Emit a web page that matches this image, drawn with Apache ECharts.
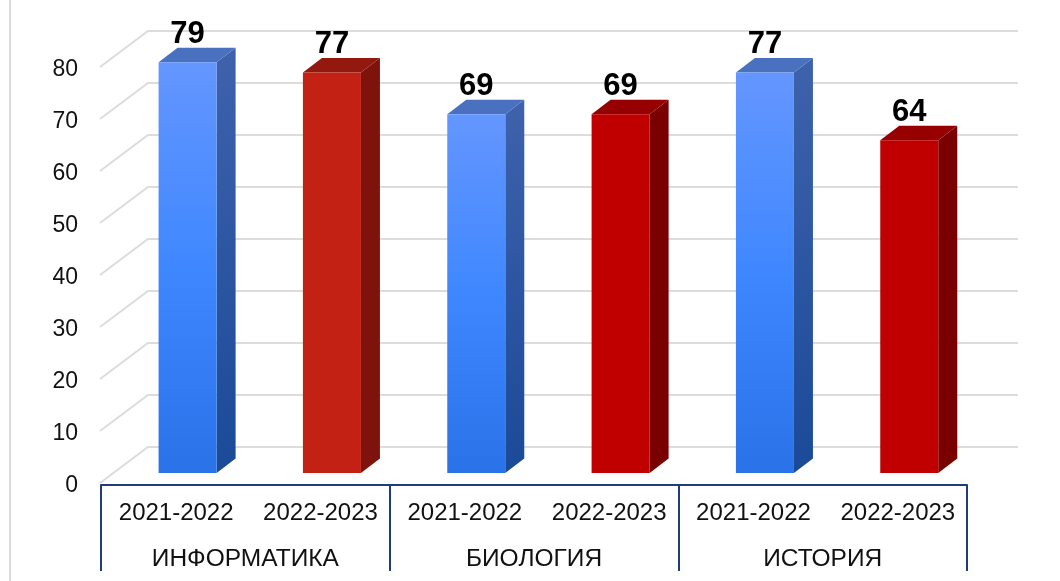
<!DOCTYPE html>
<html><head><meta charset="utf-8">
<style>html,body{margin:0;padding:0;background:#fff}#c{width:1060px;height:581px}</style>
<script src="https://cdn.jsdelivr.net/npm/echarts@6/dist/echarts.min.js"></script>
</head><body><div id="c"></div>
<script>
const years = ['2021-2022','2022-2023','2021-2022','2022-2023','2021-2022','2022-2023'];
const subjects = ['ИНФОРМАТИКА','БИОЛОГИЯ','ИСТОРИЯ'];
const values = [79,77,69,69,77,64];
const yTicks = [0,10,20,30,40,50,60,70,80];
const palette = [
  {top:'#4a70c0',side:['#3f62ac','#1a4a98'],front:['#6496ff','#3f87ff','#2a72e8']},
  {top:'#93180e',side:['#7d130b','#7d130b'],front:['#c32114','#c32114','#c32114']},
  {top:'#4a70c0',side:['#3f62ac','#1a4a98'],front:['#6496ff','#3f87ff','#2a72e8']},
  {top:'#960000',side:['#7a0000','#7a0000'],front:['#c00000','#c00000','#c00000']},
  {top:'#4a70c0',side:['#3f62ac','#1a4a98'],front:['#6496ff','#3f87ff','#2a72e8']},
  {top:'#960000',side:['#7a0000','#7a0000'],front:['#c00000','#c00000','#c00000']}
];
const font = '"Liberation Sans", Arial, sans-serif';
const grad = (cs) => new echarts.graphic.LinearGradient(0,0,0,1,cs.map((c,i)=>({offset:i/(cs.length-1),color:c})));
const DX = 19, DY = 14.5;

function wall(params, api){
  const p = api.coord([0, api.value(0)]);
  const r = params.coordSys;
  const fy = p[1] + 10, by = p[1] - 26;
  const xl = r.x - 1, xb = r.x + 47, xr = r.x + r.width + 51;
  const st = {stroke:'#dcdcdc', lineWidth:2, fill:null};
  return {type:'group', children:[
    {type:'polyline', shape:{points:[[xl,fy],[xb,by],[xr,by]]}, style:st}
  ]};
}
function bar(params, api){
  const i = api.value(0), v = api.value(1);
  const base = api.coord([i,0]), topP = api.coord([i,v]);
  const bw = api.size([1,0])[0];
  const w = bw*0.402, off = bw*0.1;
  const x0 = base[0]+off-w/2, x1 = x0+w, y0 = topP[1], y1 = base[1];
  const c = palette[i];
  return {type:'group', children:[
    {type:'polygon', shape:{points:[[x1,y0],[x1+DX,y0-DY],[x1+DX,y1-DY],[x1,y1]]}, style:{fill:grad(c.side)}},
    {type:'polygon', shape:{points:[[x0,y0],[x0+DX,y0-DY],[x1+DX,y0-DY],[x1,y0]]}, style:{fill:c.top}},
    {type:'rect', shape:{x:x0,y:y0,width:w,height:y1-y0}, style:{fill:grad(c.front)}},
    {type:'text', style:{text:String(v), x:(x0+x1)/2, y:y0-28, align:'center', verticalAlign:'middle', font:'bold 31px '+font, fill:'#000'}}
  ]};
}

const chart = echarts.init(document.getElementById('c'), null, {renderer:'canvas'});
chart.setOption({
  animation:false, backgroundColor:'#fff',
  grid:{left:101, width:866, top:57, height:416},
  graphic:[{type:'rect', shape:{x:9,y:0,width:2,height:581}, style:{fill:'#dcdcdc'}, silent:true}],
  xAxis:[
    {type:'category', data:years, offset:12, axisLine:{show:false}, axisTick:{show:false},
     axisLabel:{interval:0, margin:16, fontSize:24, fontFamily:font, color:'#111', padding:[0,0,0,6]}},
    {type:'category', data:subjects, position:'bottom', offset:12,
     axisLine:{lineStyle:{color:'#1f3d7a',width:2}},
     axisTick:{show:true, length:86, lineStyle:{color:'#1f3d7a',width:2}},
     axisLabel:{interval:0, margin:62, fontSize:24.5, fontFamily:font, color:'#111'}}
  ],
  yAxis:{type:'value', min:0, max:80, interval:10, axisLine:{show:false}, axisTick:{show:false}, splitLine:{show:false},
    axisLabel:{margin:23, fontSize:23, fontFamily:font, color:'#111', verticalAlign:'top', padding:[1,0,0,0]}},
  series:[
    {type:'custom', renderItem:wall, data:yTicks.map(v=>[v]), encode:{y:0}, clip:false, silent:true, z:1},
    {type:'custom', renderItem:bar, data:values.map((v,i)=>[i,v]), encode:{x:0,y:1}, clip:false, silent:true, z:2}
  ]
});
</script></body></html>
